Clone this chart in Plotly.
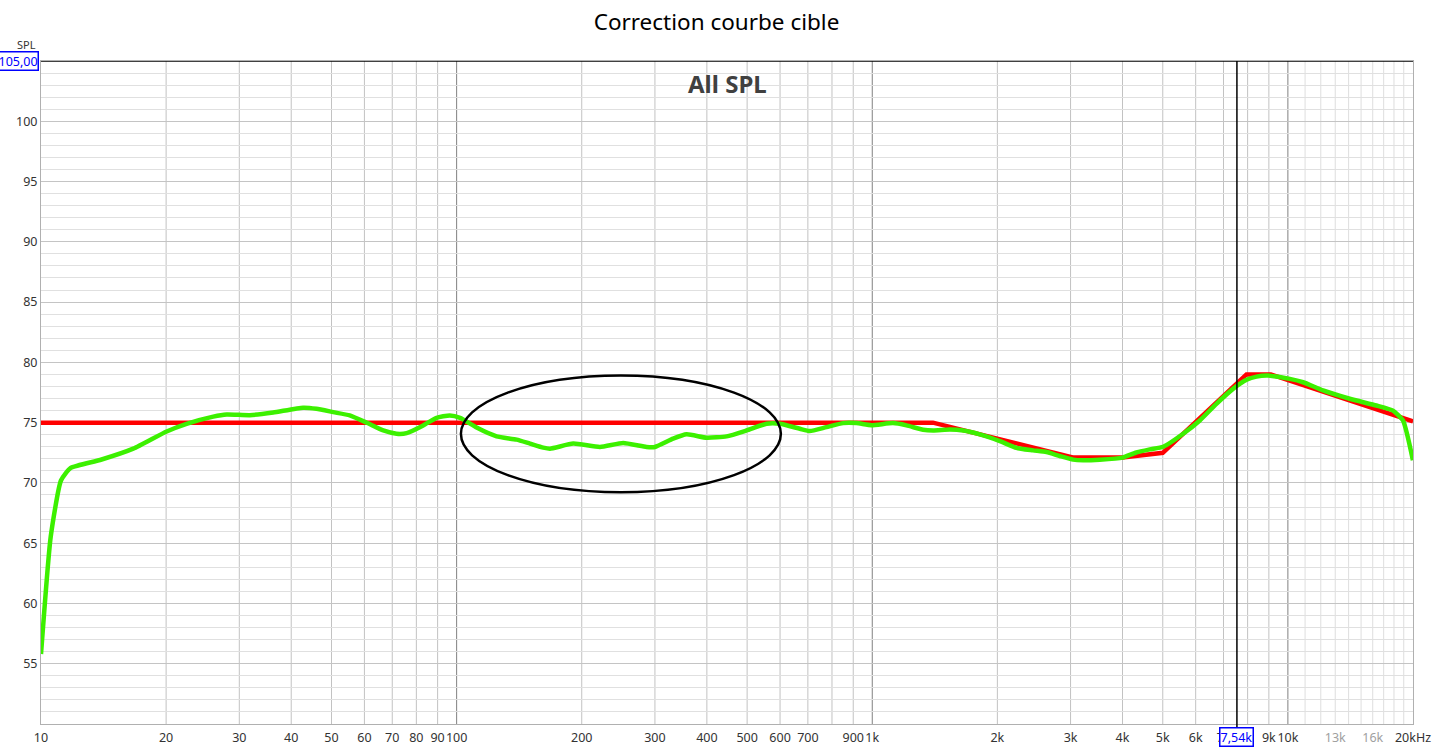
import plotly.graph_objects as go

# target curve (red)
target_freq = [10, 1400, 3050, 4000, 5000, 7950, 9100, 20000]
target_spl = [75.0, 75.0, 72.1, 72.1, 72.5, 79.0, 79.0, 75.1]

# measured / corrected curve (green)
meas_freq = [10.0, 10.55, 11.17, 11.79, 13.87, 16.67, 20.06, 22.4, 25.97, 27.97,
             31.8, 36.2, 42.7, 46.0, 50.5, 55.3, 60.8, 66.6, 71.7, 75.8,
             83.1, 89.5, 96.3, 101.9, 111.7, 124.8, 139.4, 150.1, 161.6, 167.7,
             190.8, 221.2, 251.6, 286.4, 299.9, 331.9, 357.5, 399.4, 446.2, 498.4,
             556.8, 599.5, 669.6, 707.6, 776, 851, 916, 996, 1122, 1209,
             1326, 1401, 1537, 1655, 1815, 2028, 2224, 2438, 2626, 2827,
             3043, 3216, 3527, 4000, 4300, 4654, 5012, 5598, 6138, 6730,
             7379, 7953, 8405, 8964, 10107, 10880, 12150, 14085, 16330, 17900,
             18920, 19990]
meas_spl = [55.8, 65.5, 70.2, 71.24, 71.9, 72.84, 74.27, 74.9, 75.5, 75.68,
            75.62, 75.84, 76.24, 76.15, 75.87, 75.6, 74.99, 74.35, 74.08, 74.13,
            74.77, 75.4, 75.6, 75.4, 74.59, 73.86, 73.59, 73.26, 72.93, 72.84,
            73.26, 72.98, 73.31, 72.98, 72.98, 73.67, 74.03, 73.75, 73.86, 74.35,
            74.91, 74.91, 74.49, 74.3, 74.63, 74.96, 74.96, 74.79, 74.96, 74.77,
            74.41, 74.35, 74.43, 74.35, 74.03, 73.47, 72.9, 72.7, 72.56, 72.23,
            71.93, 71.88, 71.93, 72.1, 72.5, 72.78, 73.0, 74.08, 75.18, 76.56,
            77.8, 78.55, 78.82, 78.9, 78.63, 78.35, 77.67, 76.98, 76.42, 76.0,
            75.18, 71.88]

# axis ticks
x_tickvals = [10, 20, 30, 40, 50, 60, 70, 80, 90, 100,
              200, 300, 400, 500, 600, 700, 900, 1000,
              2000, 3000, 4000, 5000, 6000, 7000, 9000, 10000,
              13000, 16000, 20000]
x_ticktext = ['10', '20', '30', '40', '50', '60', '70', '80', '90', '100',
              '200', '300', '400', '500', '600', '700', '900', '1k',
              '2k', '3k', '4k', '5k', '6k', '7k', '9k', '10k',
              '<span style="color:#a0a0a0">13k</span>',
              '<span style="color:#a0a0a0">16k</span>', '20kHz']
x_grid_mid = [20, 30, 40, 50, 60, 70, 80, 90, 200, 300, 400, 500, 600, 700, 800, 900,
              2000, 3000, 4000, 5000, 6000, 7000, 8000, 9000]
x_grid_light = [11000, 12000, 13000, 14000, 15000, 16000, 17000, 18000, 19000]
decades = [100, 1000, 10000]
y_tickvals = [55, 60, 65, 70, 75, 80, 85, 90, 95, 100]
y_minor = [v for v in range(51, 105) if v % 5 != 0]

cursor_freq = 7540
cursor_label = '7,54k'
cursor_level = 105
cursor_level_label = '105,00'

fig = go.Figure()

fig.add_trace(go.Scatter(x=target_freq, y=target_spl, mode='lines',
                         line=dict(color='#ff0000', width=4.5), name='cible'))
fig.add_trace(go.Scatter(x=meas_freq, y=meas_spl, mode='lines',
                         line=dict(color='#3cf000', width=4.5, shape='spline', smoothing=0.5),
                         name='mesure'))

# vertical grid lines
for v in x_grid_light:
    fig.add_shape(type='line', xref='x', yref='paper', x0=v, x1=v, y0=0, y1=1,
                  line=dict(color='#dedede', width=1), layer='below')
for v in x_grid_mid:
    fig.add_shape(type='line', xref='x', yref='paper', x0=v, x1=v, y0=0, y1=1,
                  line=dict(color='#c2c2c2', width=1), layer='below')
for d in decades:
    fig.add_shape(type='line', xref='x', yref='paper', x0=d, x1=d, y0=0, y1=1,
                  line=dict(color='#808080', width=1), layer='below')

# cursors
fig.add_shape(type='line', xref='x', yref='paper', x0=cursor_freq, x1=cursor_freq,
              y0=-0.005, y1=1, line=dict(color='black', width=1.5))
fig.add_shape(type='line', xref='paper', yref='y', x0=0, x1=1, y0=cursor_level, y1=cursor_level,
              line=dict(color='black', width=1.5))

# highlighted region
fig.add_shape(type='circle', xref='x', yref='y', x0=102.4, x1=602.8, y0=69.23, y1=78.91,
              line=dict(color='black', width=2.5))

fig.add_annotation(x=0.0, y=cursor_level, xref='paper', yref='y', xanchor='right', yanchor='middle',
                   text=cursor_level_label, showarrow=False, xshift=-2,
                   font=dict(family='Noto Sans', size=12.5, color='#0000ff'),
                   bordercolor='#0000ff', borderwidth=1.5, borderpad=0, bgcolor='white')
fig.add_annotation(x=0.0, y=1.0, xref='paper', yref='paper', xanchor='right', yanchor='bottom',
                   text='SPL', showarrow=False, xshift=-3, yshift=7,
                   font=dict(family='Noto Sans', size=11, color='#333333'))
fig.add_annotation(x=3.8774, y=0, xref='x', yref='paper', xanchor='center', yanchor='top',
                   text=cursor_label, showarrow=False, yshift=-3,
                   font=dict(family='Noto Sans', size=12.5, color='#0000ff'),
                   bordercolor='#0000ff', borderwidth=1.5, borderpad=0, bgcolor='white')
fig.add_annotation(x=0.5, y=1.0, xref='paper', yref='paper', xanchor='center', yanchor='top',
                   text='<b>All SPL</b>', showarrow=False, yshift=-4,
                   font=dict(family='Noto Sans', size=24, color='#404040'))

fig.update_layout(
    width=1433, height=748,
    margin=dict(l=41, r=20, t=61, b=24, autoexpand=False),
    paper_bgcolor='white', plot_bgcolor='white',
    showlegend=False,
    title=dict(text='Correction courbe cible', x=0.5, xanchor='center', y=0.97, yanchor='middle',
               font=dict(family='Noto Sans', size=22.5, color='black')),
    font=dict(family='Noto Sans', size=12.5, color='#333333'),
)
fig.update_xaxes(type='log', range=[1, 4.30103], tickmode='array',
                 tickvals=x_tickvals, ticktext=x_ticktext, ticks='', tickangle=0,
                 ticklabelstandoff=2, automargin=False, showgrid=False,
                 showline=True, linecolor='#b0b0b0', mirror=True, zeroline=False)
fig.update_yaxes(range=[50, 105], tickmode='array', tickvals=y_tickvals, ticks='',
                 automargin=False, showgrid=True, gridcolor='#c4c4c4', gridwidth=1,
                 minor=dict(tickmode='array', tickvals=y_minor, showgrid=True,
                            gridcolor='#e0e0e0', ticks=''),
                 showline=True, linecolor='#b0b0b0', mirror=True, zeroline=False)

# the page's default body margin would shift the figure by 8px
fig.write_html('out.html', config={'displayModeBar': False},
               post_script="document.body.style.margin='0';")
